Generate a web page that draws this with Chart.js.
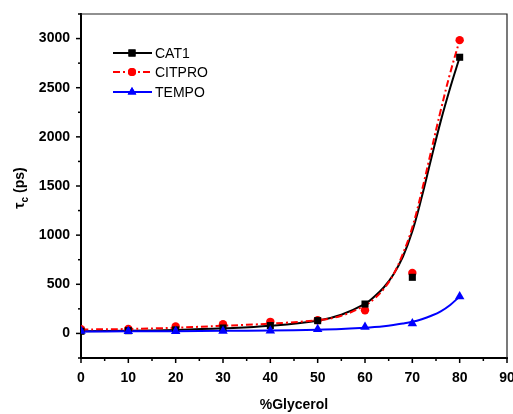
<!DOCTYPE html>
<html><head><meta charset="utf-8">
<script src="https://cdn.jsdelivr.net/npm/chart.js@4.4.1/dist/chart.umd.min.js"></script>
<style>html,body{margin:0;padding:0;background:#fff}#wrap{width:513px;height:414px;position:relative}</style>
</head><body><div id="wrap"><canvas id="c"></canvas></div>
<script>
// measured points
const glycerol = [0, 10, 20, 30, 40, 50, 60, 70, 80];
const cat1 = [22, 28, 36, 55, 80, 130, 299, 571, 2810];
const citpro = [43, 45, 70, 94, 118, 135, 235, 616, 2984];
const tempo = [25, 22, 22, 25, 28, 43, 66, 100, 376];
// fitted curves
const fitX = [0, 10, 20, 30, 40, 50, 55, 60, 62, 64, 66, 68, 70, 72, 74, 76, 78, 80];
const cat1Fit = [22, 27, 36, 52, 78, 130, 190, 300, 375, 470, 600, 780, 1040, 1390, 1780, 2160, 2500, 2810];
const citproFit = [40, 45, 58, 78, 100, 135, 180, 285, 355, 455, 600, 810, 1080, 1450, 1860, 2270, 2650, 2984];
const tempoFit = [20, 21, 23, 26, 30, 38, 45, 58, 65, 74, 86, 100, 118, 145, 180, 225, 290, 376];
const xTicks = [0, 10, 20, 30, 40, 50, 60, 70, 80, 90];
const yTicks = [0, 500, 1000, 1500, 2000, 2500, 3000];
const seriesNames = ['CAT1', 'CITPRO', 'TEMPO'];

const pts = (xs, ys) => xs.map((x, i) => ({x, y: ys[i]}));
const FONT = "'Liberation Sans', Arial, sans-serif";

const frame = {
  id: 'frame',
  afterDraw(chart) {
    const {ctx, chartArea: a, scales: {x, y}} = chart;
    ctx.save();
    ctx.strokeStyle = '#222'; ctx.lineWidth = 1.2;
    ctx.beginPath(); ctx.moveTo(a.left, a.top); ctx.lineTo(a.right, a.top); ctx.lineTo(a.right, a.bottom); ctx.stroke();
    ctx.strokeStyle = '#000'; ctx.lineWidth = 1.5;
    for (let v = -250; v <= 3250; v += 250) {
      const py = y.getPixelForValue(v);
      const len = v % 500 === 0 ? 5 : 3;
      ctx.beginPath(); ctx.moveTo(a.left, py); ctx.lineTo(a.left - len, py); ctx.stroke();
    }
    for (let v = 0; v <= 90; v += 5) {
      const px = x.getPixelForValue(v);
      const len = v % 10 === 0 ? 5 : 3;
      ctx.beginPath(); ctx.moveTo(px, a.bottom); ctx.lineTo(px, a.bottom + len); ctx.stroke();
    }
    // y title with subscript
    ctx.translate(20, (a.top + a.bottom) / 2 + 2);
    ctx.rotate(-Math.PI / 2);
    ctx.fillStyle = '#000';
    ctx.textBaseline = 'middle';
    const f1 = 'bold 14px ' + FONT, f2 = 'bold 10px ' + FONT;
    ctx.font = f1; const w1 = ctx.measureText('τ').width;
    ctx.font = f2; const w2 = ctx.measureText('c').width;
    ctx.font = f1; const w3 = ctx.measureText(' (ps)').width;
    let sx = -(w1 + w2 + w3) / 2;
    ctx.font = f1; ctx.textAlign = 'left'; ctx.fillText('τ', sx, 0); sx += w1;
    ctx.font = f2; ctx.fillText('c', sx, 5); sx += w2;
    ctx.font = f1; ctx.fillText(' (ps)', sx, 0);
    ctx.restore();
    // legend
    ctx.save();
    const items = [
      {c: '#000', dash: [], shape: 'rect', r: 5},
      {c: '#f00', dash: [7, 3, 2, 3], shape: 'circle', r: 4},
      {c: '#00f', dash: [], shape: 'triangle', r: 5}
    ];
    const ly = [53, 72, 92];
    items.forEach((it, i) => {
      ctx.strokeStyle = it.c; ctx.lineWidth = 2; ctx.setLineDash(it.dash);
      ctx.beginPath(); ctx.moveTo(113, ly[i]); ctx.lineTo(152, ly[i]); ctx.stroke();
      ctx.setLineDash([]);
      ctx.fillStyle = it.c;
      Chart.helpers.drawPoint(ctx, {pointStyle: it.shape, radius: it.r, borderWidth: 0}, 132, ly[i]);
      ctx.fill();
      ctx.fillStyle = '#000'; ctx.font = '14px ' + FONT; ctx.textBaseline = 'middle'; ctx.textAlign = 'left';
      ctx.fillText(seriesNames[i], 155, ly[i] + 1);
    });
    ctx.restore();
  }
};

const scatterDs = (label, data, color, style, r) => ({
  label, data, showLine: false, pointStyle: style, pointRadius: r, pointHoverRadius: r,
  backgroundColor: color, borderColor: color, pointBorderWidth: 0
});
const lineDs = (label, data, color, dash) => ({
  label, data, showLine: true, pointRadius: 0, borderColor: color, borderWidth: 2,
  borderDash: dash, tension: 0.4, fill: false
});

new Chart(document.getElementById('c'), {
  type: 'scatter',
  data: {
    datasets: [
      scatterDs('TEMPO', pts(glycerol, tempo), '#00f', 'triangle', 5.5),
      scatterDs('CAT1', pts(glycerol, cat1), '#000', 'rect', 5),
      scatterDs('CITPRO', pts(glycerol, citpro), '#f00', 'circle', 4.2),
      lineDs('TEMPO fit', pts(fitX, tempoFit), '#00f', []),
      lineDs('CITPRO fit', pts(fitX, citproFit), '#f00', [7, 3, 2, 3]),
      lineDs('CAT1 fit', pts(fitX, cat1Fit), '#000', [])
    ]
  },
  options: {
    responsive: true, maintainAspectRatio: false, animation: false,
    layout: {padding: {top: 14, right: 6, left: 0, bottom: 0}},
    plugins: {legend: {display: false}, tooltip: {enabled: false}},
    scales: {
      x: {
        type: 'linear', min: 0, max: 90,
        afterBuildTicks: s => { s.ticks = xTicks.map(v => ({value: v})); },
        afterFit: s => { s.height = 56; s.paddingLeft = 0; s.paddingRight = 0; },
        grid: {display: true, drawOnChartArea: false, drawTicks: false},
        border: {display: true, width: 2, color: '#000'},
        ticks: {padding: 12, color: '#000', font: {family: FONT, size: 14, weight: 'bold'}, maxRotation: 0, callback: v => String(v)},
        title: {display: true, text: '%Glycerol', color: '#000', padding: {top: 8, bottom: 0}, font: {family: FONT, size: 14, weight: 'bold'}}
      },
      y: {
        type: 'linear', min: -250, max: 3250,
        afterBuildTicks: s => { s.ticks = yTicks.map(v => ({value: v})); },
        afterFit: s => { s.width = 81; s.paddingTop = 0; s.paddingBottom = 0; },
        grid: {display: true, drawOnChartArea: false, drawTicks: false},
        border: {display: true, width: 2, color: '#000'},
        ticks: {padding: 11, color: '#000', font: {family: FONT, size: 14, weight: 'bold'}, callback: v => String(v)}
      }
    }
  },
  plugins: [frame]
});
</script></body></html>
